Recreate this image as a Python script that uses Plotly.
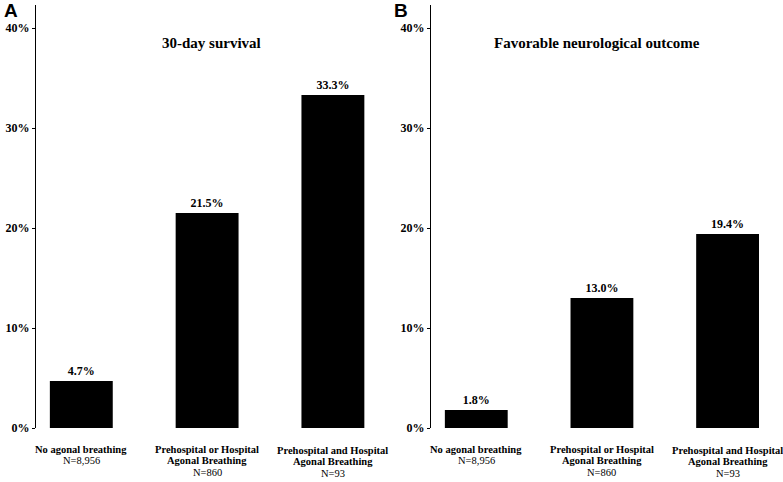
import plotly.graph_objects as go

cat_lines = [["No agonal breathing"],
             ["Prehospital or Hospital", "Agonal Breathing"],
             ["Prehospital and Hospital", "Agonal Breathing"]]
n_labels = ["N=8,956", "N=860", "N=93"]
survival = [4.7, 21.5, 33.3]
neuro = [1.8, 13.0, 19.4]
panel_titles = ["30-day survival", "Favorable neurological outcome"]
panel_letters = ["A", "B"]
y_ticks = [0, 10, 20, 30, 40]

FONT = "Liberation Serif"
xpos = list(range(len(cat_lines)))
PH = 423.0  # plot height in px
def py(p):  # pixel row -> paper y
    return (428.0 - p) / PH

fig = go.Figure()
for i, vals in enumerate([survival, neuro]):
    sfx = "" if i == 0 else "2"
    fig.add_trace(go.Bar(
        x=xpos, y=vals, width=0.5, marker=dict(color="black", line=dict(width=0)),
        texttemplate="<b>%{y:.1f}%</b>", textposition="outside",
        textfont=dict(family=FONT, size=12, color="black"),
        cliponaxis=False, xaxis="x" + sfx, yaxis="y" + sfx, showlegend=False,
    ))

doms = [[0.046, 0.483], [0.5505, 0.987]]
title_x = [0.514, 0.487]
for i in range(2):
    sfx = "" if i == 0 else "2"
    fig.update_layout(**{
        "xaxis" + sfx: dict(
            domain=doms[i], range=[-0.36, 2.36], showticklabels=False,
            showline=False, showgrid=False, zeroline=False, ticks="",
            automargin=False, anchor="y" + sfx,
        ),
        "yaxis" + sfx: dict(
            domain=[0, 1], range=[0, 42.3], tickvals=y_ticks,
            ticktext=[f"<b>{t}%</b>" for t in y_ticks],
            showline=True, linecolor="black", linewidth=1.2,
            ticks="outside", ticklen=3, tickcolor="black", tickwidth=1,
            showgrid=False, zeroline=False, automargin=False,
            tickfont=dict(family=FONT, size=12, color="black"),
            anchor="x" + sfx,
        ),
    })
    fig.add_annotation(text=f"<b>{panel_titles[i]}</b>", xref=f"x{sfx} domain", yref="paper",
                       x=title_x[i], y=0.910, yanchor="middle", showarrow=False,
                       font=dict(family=FONT, size=15, color="black"))
    fig.add_annotation(text=f"<b>{panel_letters[i]}</b>", xref="paper", yref="paper",
                       x=[0.002, 0.5006][i], y=0.986, xanchor="left", yanchor="middle", showarrow=False,
                       font=dict(family="Liberation Sans", size=19, color="black"))
    # category labels under the bars
    for c in xpos:
        lines = [f"<b>{t}</b>" for t in cat_lines[c]] + [n_labels[c]]
        base = 449.0 if c < 2 else 450.3
        step = 11.0 if c == 0 else 11.7
        for k, t in enumerate(lines):
            fig.add_annotation(text=t, xref="x" + sfx, yref="paper", x=c,
                               y=py(base + k * step), yanchor="middle", showarrow=False,
                               font=dict(family=FONT, size=10.5, color="black"))

fig.update_layout(
    width=783, height=482, margin=dict(l=0, r=0, t=5, b=54),
    plot_bgcolor="white", paper_bgcolor="white", template="none",
)
fig.write_html("out.html")
